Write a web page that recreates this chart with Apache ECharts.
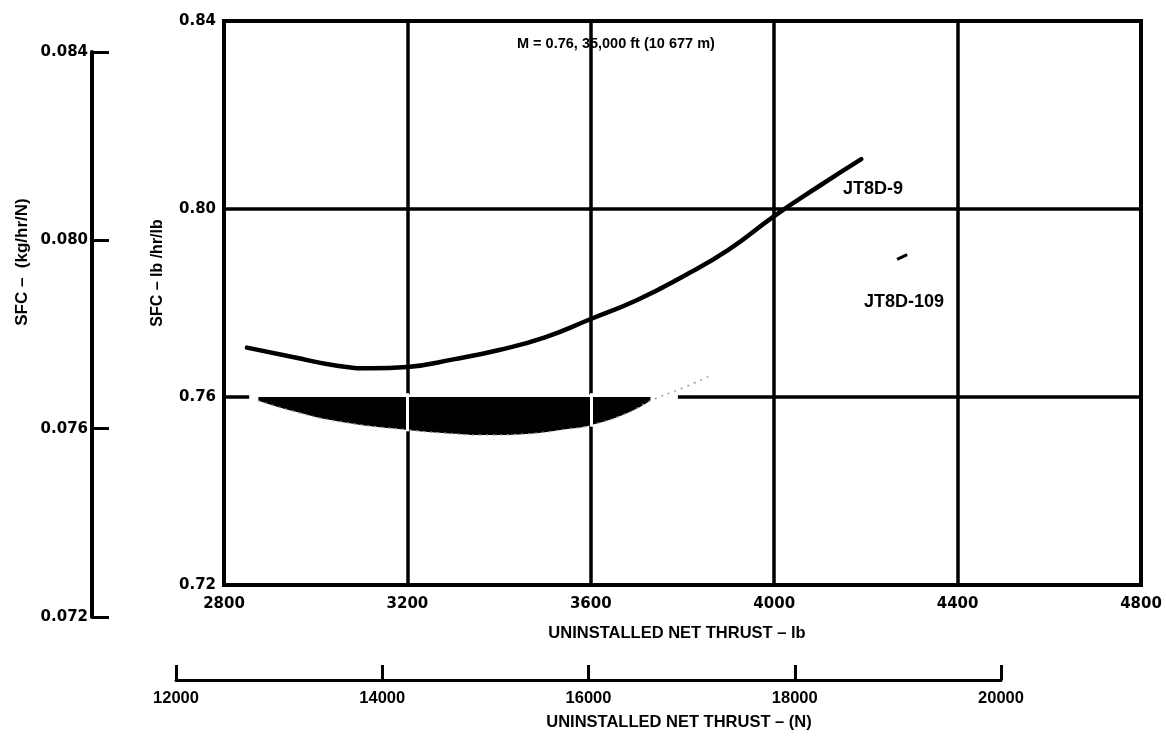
<!DOCTYPE html>
<html>
<head>
<meta charset="utf-8">
<script src="https://cdn.jsdelivr.net/npm/echarts@6/dist/echarts.min.js"></script>
<style>
html,body{margin:0;padding:0;background:#fff;}
#chart{width:1166px;height:738px;}
</style>
</head>
<body>
<div id="chart"></div>
<script>
// ---- data ----
const jt8d9X = [2850, 2950, 3050, 3120, 3200, 3300, 3400, 3500, 3600, 3700, 3800, 3900, 4000, 4100, 4190];
const jt8d9Y = [0.7705, 0.7685, 0.7666, 0.7661, 0.7664, 0.7680, 0.7700, 0.7727, 0.7766, 0.7806, 0.7856, 0.7913, 0.7985, 0.8050, 0.8106];

const jt8d109X = [2875, 2950, 3050, 3200, 3300, 3370, 3450, 3550, 3600, 3680, 3730, 3800, 3860];
const jt8d109Y = [0.7592, 0.7570, 0.7548, 0.7530, 0.7522, 0.7519, 0.7521, 0.7532, 0.7540, 0.7566, 0.7592, 0.7619, 0.7645];
const jt8d109FragX = [4268, 4290];
const jt8d109FragY = [0.7893, 0.7903];
const fillEndX = 3730;          // shaded band between the JT8D-109 curve and 0.76
const fillLevel = 0.76;

const xTicksLb = [2800, 3200, 3600, 4000, 4400, 4800];
const yTicksLbHrLb = [0.72, 0.76, 0.80, 0.84];
const yTicksKg = [0.072, 0.076, 0.080, 0.084];
const xTicksN = [12000, 14000, 16000, 18000, 20000];

const texts = {
  condition: 'M = 0.76, 35,000 ft (10 677 m)',
  jt8d9: 'JT8D-9',
  jt8d109: 'JT8D-109',
  yTitle: 'SFC \u2013 lb /hr/lb',
  yTitle2: 'SFC \u2013  (kg/hr/N)',
  xTitle: 'UNINSTALLED NET THRUST \u2013 lb',
  xTitle2: 'UNINSTALLED NET THRUST \u2013 (N)'
};

// ---- build ----
const pairs = (xs, ys) => xs.map((x, i) => [x, ys[i]]);
const curve109 = pairs(jt8d109X, jt8d109Y);
const fillData = curve109.filter(p => p[0] <= fillEndX);
const gridBreaks = xTicksLb.filter(x => x > fillData[0][0] && x < fillEndX);
const breakLines = gridBreaks.map(x => {
  const i = jt8d109X.indexOf(x);
  return [{ coord: [x, fillLevel + 0.0008] }, { coord: [x, jt8d109Y[i] - 0.0003] }];
});

const FONT = "'Liberation Sans', Arial, sans-serif";
const WIDE = "'DejaVu Sans', 'Liberation Sans', sans-serif";
const lbl = (size, fam) => ({ color: '#000', fontFamily: fam || FONT, fontWeight: 'bold', fontSize: size });

const chart = echarts.init(document.getElementById('chart'), null, { renderer: 'canvas' });
chart.setOption({
  backgroundColor: '#fff',
  animation: false,
  grid: [
    { left: 224, top: 21, width: 917, height: 564, show: true, borderColor: '#000', borderWidth: 4, backgroundColor: 'transparent' },
    { left: 92, top: 52, width: 20, height: 565 },
    { left: 176, top: 640, width: 825, height: 40 }
  ],
  xAxis: [
    {
      gridIndex: 0, type: 'value', min: xTicksLb[0], max: xTicksLb[xTicksLb.length - 1], interval: 400,
      axisLine: { show: true, onZero: false, lineStyle: { color: '#000', width: 4 } },
      axisTick: { show: false },
      splitLine: { show: true, lineStyle: { color: '#000', width: 3.5 } },
      axisLabel: Object.assign(lbl(15, WIDE), { margin: 12, formatter: v => String(v) })
    },
    {
      gridIndex: 1, type: 'value', show: false, min: 0, max: 1
    },
    {
      gridIndex: 2, type: 'value', min: xTicksN[0], max: xTicksN[xTicksN.length - 1], interval: 2000,
      axisLine: { show: true, onZero: false, lineStyle: { color: '#000', width: 3 } },
      axisTick: { show: true, inside: true, length: 15, lineStyle: { color: '#000', width: 3 } },
      splitLine: { show: false },
      axisLabel: Object.assign(lbl(16.5), { margin: 10, formatter: v => String(v) })
    }
  ],
  yAxis: [
    {
      gridIndex: 0, type: 'value', min: yTicksLbHrLb[0], max: yTicksLbHrLb[yTicksLbHrLb.length - 1], interval: 0.04,
      axisLine: { show: true, onZero: false, lineStyle: { color: '#000', width: 4 } },
      axisTick: { show: false },
      splitLine: { show: true, lineStyle: { color: '#000', width: 3.5 } },
      axisLabel: Object.assign(lbl(15, WIDE), { margin: 8, formatter: v => v.toFixed(2) })
    },
    {
      gridIndex: 1, type: 'value', min: yTicksKg[0], max: yTicksKg[yTicksKg.length - 1], interval: 0.004,
      axisLine: { show: true, onZero: false, lineStyle: { color: '#000', width: 4 } },
      axisTick: { show: true, inside: true, length: 17, lineStyle: { color: '#000', width: 3 } },
      splitLine: { show: false },
      axisLabel: Object.assign(lbl(15, WIDE), { margin: 4, formatter: v => v.toFixed(3) })
    },
    {
      gridIndex: 2, type: 'value', show: false, min: 0, max: 1
    }
  ],
  series: [
    {
      // erased part of the 0.76 grid line in the original
      type: 'line', xAxisIndex: 0, yAxisIndex: 0, silent: true, z: 2,
      data: [[fillData[0][0] - 20, fillLevel], [fillEndX + 60, fillLevel]],
      symbol: 'none', lineStyle: { color: '#fff', width: 5 }
    },
    {
      name: 'JT8D-109 band', type: 'line', xAxisIndex: 0, yAxisIndex: 0, silent: true, z: 3,
      data: fillData, smooth: true, symbol: 'none',
      lineStyle: { width: 0, color: '#000' },
      areaStyle: { color: '#000', opacity: 1, origin: fillLevel },
      markLine: {
        silent: true, symbol: 'none', label: { show: false },
        lineStyle: { color: '#fff', width: 3, type: 'solid' },
        data: breakLines
      }
    },
    {
      name: 'JT8D-109', type: 'line', xAxisIndex: 0, yAxisIndex: 0, silent: true, z: 4,
      data: curve109, smooth: true, symbol: 'none',
      lineStyle: { color: '#9a9a9a', width: 1.5, type: [2, 5] }
    },
    {
      name: 'JT8D-109 fragment', type: 'line', xAxisIndex: 0, yAxisIndex: 0, silent: true, z: 4,
      data: pairs(jt8d109FragX, jt8d109FragY), symbol: 'none',
      lineStyle: { color: '#000', width: 3 }
    },
    {
      name: 'JT8D-9', type: 'line', xAxisIndex: 0, yAxisIndex: 0, silent: true, z: 5,
      data: pairs(jt8d9X, jt8d9Y), smooth: true, symbol: 'none',
      lineStyle: { color: '#000', width: 4.5, cap: 'round' }
    }
  ],
  graphic: [
    { type: 'text', x: 517, y: 44, silent: true,
      style: { text: texts.condition, fill: '#000', font: "bold 14.5px " + FONT, textAlign: 'left', textVerticalAlign: 'middle' } },
    { type: 'text', x: 843, y: 189, silent: true,
      style: { text: texts.jt8d9, fill: '#000', font: "bold 18px " + FONT, textAlign: 'left', textVerticalAlign: 'middle' } },
    { type: 'text', x: 864, y: 302, silent: true,
      style: { text: texts.jt8d109, fill: '#000', font: "bold 18px " + FONT, textAlign: 'left', textVerticalAlign: 'middle' } },
    { type: 'text', x: 158, y: 273, rotation: Math.PI / 2, silent: true,
      style: { text: texts.yTitle, fill: '#000', font: "bold 16px " + FONT, textAlign: 'center', textVerticalAlign: 'middle' } },
    { type: 'text', x: 22, y: 262, rotation: Math.PI / 2, silent: true,
      style: { text: texts.yTitle2, fill: '#000', font: "bold 17px " + FONT, textAlign: 'center', textVerticalAlign: 'middle' } },
    { type: 'text', x: 677, y: 633, silent: true,
      style: { text: texts.xTitle, fill: '#000', font: "bold 16.5px " + FONT, textAlign: 'center', textVerticalAlign: 'middle' } },
    { type: 'text', x: 679, y: 722, silent: true,
      style: { text: texts.xTitle2, fill: '#000', font: "bold 16.5px " + FONT, textAlign: 'center', textVerticalAlign: 'middle' } }
  ]
});
</script>
</body>
</html>
